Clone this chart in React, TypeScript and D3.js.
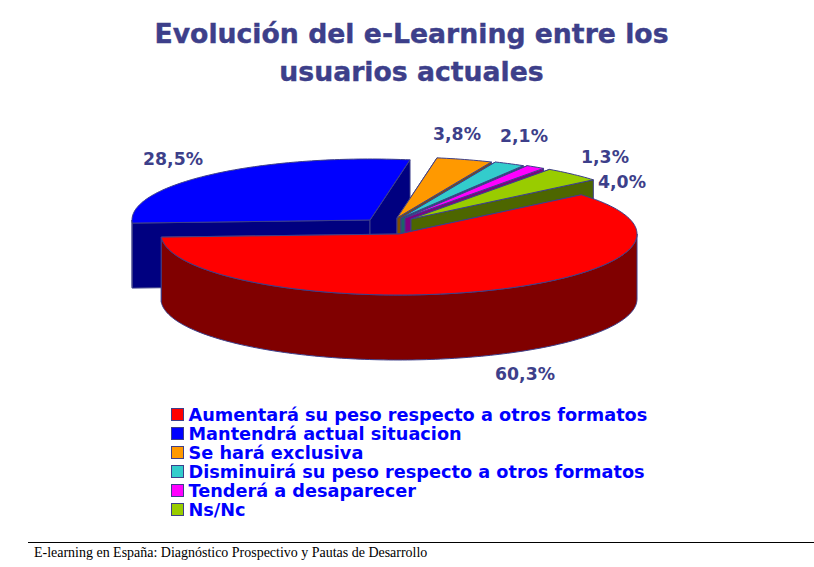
import React from 'react'
import * as d3 from 'd3'

const categories = [
  'Aumentará su peso respecto a otros formatos',
  'Mantendrá actual situacion',
  'Se hará exclusiva',
  'Disminuirá su peso respecto a otros formatos',
  'Tenderá a desaparecer',
  'Ns/Nc',
]
const values = [60.3, 28.5, 3.8, 2.1, 1.3, 4.0]
const valueLabels = ['60,3%', '28,5%', '3,8%', '2,1%', '1,3%', '4,0%']
const titleLines = ['Evolución del e-Learning entre los', 'usuarios actuales']
const footer = 'E-learning en España: Diagnóstico Prospectivo y Pautas de Desarrollo'

const topColors = ['#ff0000', '#0000ff', '#ff9900', '#33cccc', '#ff00ff', '#99cc00']
const sideColors = ['#800000', '#000080', '#805000', '#1a6666', '#800080', '#4d6600']
const ink = '#3d3f8a'

// exploded slice centres and label anchors, by hand from the picture
const centers = [[399, 234], [370, 220], [397, 218], [401, 218], [405, 218], [411, 219]]
const labelPos = [[525, 380], [173, 165], [457, 140], [524, 142], [605, 163], [622, 188]]

const rx = 238
const ry = 61
const depth = 65
const startDeg = 50

const pie = d3
  .pie<number>()
  .sort(null)
  .startAngle((startDeg * Math.PI) / 180)
  .endAngle(((startDeg + 360) * Math.PI) / 180)

const line = d3.line()

const rim = (c: number[], a0: number, a1: number, dy = 0): [number, number][] => {
  const n = Math.max(2, Math.ceil(Math.abs(a1 - a0) / 0.02))
  return d3.range(n + 1).map(i => {
    const a = a0 + ((a1 - a0) * i) / n
    return [c[0] + rx * Math.sin(a), c[1] + dy - ry * Math.cos(a)]
  })
}

const Slice = ({ i, a0, a1 }: { i: number; a0: number; a1: number }) => {
  const c = centers[i]
  const fill = topColors[i]
  const side = sideColors[i]
  const p0 = rim(c, a0, a0)[0]
  const p1 = rim(c, a1, a1)[0]
  const wall = (p: number[]) =>
    line([[c[0], c[1]], [p[0], p[1]], [p[0], p[1] + depth], [c[0], c[1] + depth]]) + 'Z'
  // only the part of the rim facing the viewer gets an outer wall
  const f0 = Math.max(a0, Math.PI / 2)
  const f1 = Math.min(a1, (3 * Math.PI) / 2)
  const front =
    f1 > f0
      ? line([...rim(c, f0, f1), ...rim(c, f1, f0, depth)]) + 'Z'
      : null
  const top = line([[c[0], c[1]], ...rim(c, a0, a1)]) + 'Z'
  return (
    <g stroke={ink} strokeWidth={1} strokeLinejoin="round">
      <path d={wall(p0)} fill={side} />
      <path d={wall(p1)} fill={side} />
      {front && <path d={front} fill={side} />}
      <path d={top} fill={fill} />
    </g>
  )
}

export default function App() {
  const arcs = pie(values)
  // red goes last, it sits in front of everything else
  const order = [1, 2, 3, 4, 5, 0]
  return (
    <svg
      width={814}
      height={567}
      style={{ position: 'absolute', left: 0, top: 0, background: '#fff' }}
    >
      <g
        fontFamily="'DejaVu Sans', Verdana, sans-serif"
        fontWeight="bold"
        fontSize={26.7}
        fill={ink}
        stroke={ink}
        strokeWidth={0.4}
        textAnchor="middle"
      >
        {titleLines.map((t, i) => (
          <text key={t} x={411.5} y={43 + i * 38}>
            {t}
          </text>
        ))}
      </g>

      {order.map(i => (
        <Slice key={i} i={i} a0={arcs[i].startAngle} a1={arcs[i].endAngle} />
      ))}

      <g
        fontFamily="'DejaVu Sans', Verdana, sans-serif"
        fontWeight="bold"
        fontSize={17.3}
        fill={ink}
        textAnchor="middle"
      >
        {valueLabels.map((t, i) => (
          <text key={t} x={labelPos[i][0]} y={labelPos[i][1]}>
            {t}
          </text>
        ))}
      </g>

      <g fontFamily="'DejaVu Sans', Verdana, sans-serif" fontWeight="bold" fontSize={17.7} fill="#0000ff">
        {categories.map((t, i) => (
          <g key={t}>
            <rect x={171.5} y={408.5 + i * 19} width={12} height={12} fill={topColors[i]} stroke={ink} />
            <text x={188.5} y={421 + i * 19}>
              {t}
            </text>
          </g>
        ))}
      </g>

      <line x1={28} x2={814} y1={542.5} y2={542.5} stroke="#000" />
      <text x={34} y={557} fontFamily="'Liberation Serif', serif" fontSize={13.97} fill="#000">
        {footer}
      </text>
    </svg>
  )
}
